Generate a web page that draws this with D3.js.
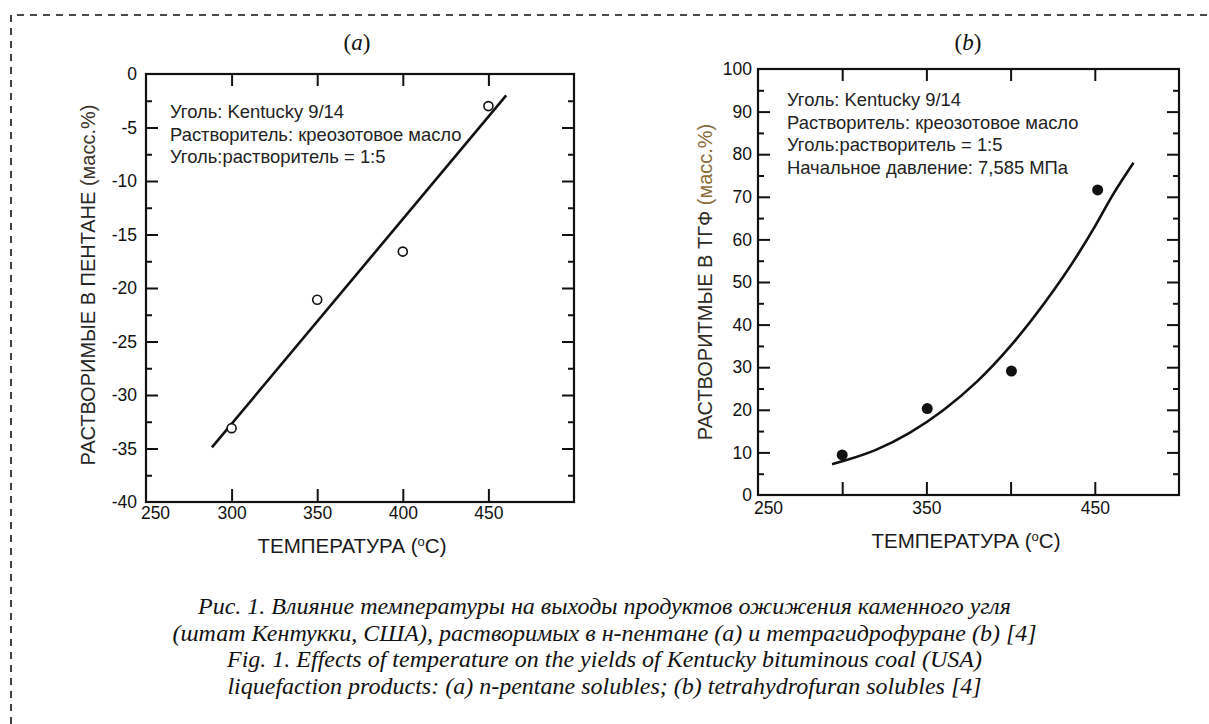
<!DOCTYPE html>
<html><head><meta charset="utf-8">
<script src="https://cdn.jsdelivr.net/npm/d3@7"></script>
<style>
body{margin:0;background:#fff;}
svg{display:block;}
</style></head>
<body>
<svg id="c" width="1209" height="724"></svg>
<script>
// ---- Data ----
// Panel (a): n-pentane solubles
const tempA = [300, 350, 400, 450];
const yieldA = [-33.1, -21.1, -16.6, -3.0];
const fitA_x = [288.5, 460.4];
const fitA_y = [-34.9, -2.0];
const yTicksA = [0, -5, -10, -15, -20, -25, -30, -35, -40];
const xTicksA = [250, 300, 350, 400, 450];
// Panel (b): THF solubles
const tempB = [300, 350.5, 400.5, 451.7];
const yieldB = [9.4, 20.3, 29.1, 71.6];
const curveB_x = [294, 300, 320, 340, 360, 380, 400, 420, 440, 450, 460, 473];
const curveB_y = [7.2, 7.9, 10.6, 14.6, 19.9, 26.6, 35.0, 45.0, 56.5, 63.0, 70.0, 78.0];
const yTicksB = [0, 10, 20, 30, 40, 50, 60, 70, 80, 90, 100];
const xTicksB = [250, 350, 450];
const notesA = ["Уголь: Kentucky 9/14", "Растворитель: креозотовое масло", "Уголь:растворитель = 1:5"];
const notesB = ["Уголь: Kentucky 9/14", "Растворитель: креозотовое масло", "Уголь:растворитель = 1:5", "Начальное давление: 7,585 МПа"];
const captions = [
  "Рис. 1. Влияние температуры на выходы продуктов ожижения каменного угля",
  "(штат Кентукки, США), растворимых в н-пентане (a) и тетрагидрофуране (b) [4]",
  "Fig. 1. Effects of temperature on the yields of Kentucky bituminous coal (USA)",
  "liquefaction products: (a) n-pentane solubles; (b) tetrahydrofuran solubles [4]"
];

const svg = d3.select("#c");
const SANS = "'Liberation Sans', Arial, sans-serif";
const SERIF = "'Liberation Serif', 'Times New Roman', serif";

// dashed frame
svg.append("path").attr("d","M11,724 L11,15 L1209,15")
  .attr("fill","none").attr("stroke","#111").attr("stroke-width",1.6)
  .attr("stroke-dasharray","7,6");

function panel(cfg){
  const g = svg.append("g");
  const x = d3.scaleLinear().domain([250,500]).range([cfg.x0, cfg.x1]);
  const y = d3.scaleLinear().domain(cfg.ydom).range([cfg.y1, cfg.y0]);
  const H = cfg.y1 - cfg.y0, W = cfg.x1 - cfg.x0;
  const mk = (axis, tr, vals, size) => {
    const a = g.append("g").attr("transform", tr)
      .call(axis.tickValues(vals).tickSizeInner(size).tickSizeOuter(0).tickFormat(""));
    a.select(".domain").remove();
    a.selectAll("line").attr("stroke","#111").attr("stroke-width",2);
  };
  mk(d3.axisLeft(y), `translate(${cfg.x0},0)`, cfg.yMajor, -12);
  mk(d3.axisLeft(y), `translate(${cfg.x0},0)`, cfg.yMinor, -6);
  mk(d3.axisRight(y), `translate(${cfg.x1},0)`, cfg.yMajor, -12);
  mk(d3.axisRight(y), `translate(${cfg.x1},0)`, cfg.yMinor, -6);
  mk(d3.axisBottom(x), `translate(0,${cfg.y1})`, cfg.xTickMarks, -13);
  mk(d3.axisTop(x), `translate(0,${cfg.y0})`, cfg.xTickMarks, -12);
  g.append("rect").attr("x",cfg.x0).attr("y",cfg.y0).attr("width",W).attr("height",H)
    .attr("fill","none").attr("stroke","#111").attr("stroke-width",2.2);
  const yl = g.append("g").attr("transform",`translate(${cfg.x0},0)`)
    .call(d3.axisLeft(y).tickValues(cfg.yTicks).tickSize(0).tickPadding(cfg.yPad).tickFormat(d=>String(d)));
  yl.select(".domain").remove();
  yl.selectAll("text").attr("font-family",SANS).attr("font-size",cfg.tickFs).attr("fill","#111");
  const xl = g.append("g").attr("transform",`translate(0,${cfg.y1})`)
    .call(d3.axisBottom(x).tickValues(cfg.xTicks).tickSize(0).tickPadding(cfg.xPad).tickFormat(d=>String(d)));
  xl.select(".domain").remove();
  xl.selectAll("text").attr("font-family",SANS).attr("font-size",cfg.tickFs).attr("fill","#111")
    .attr("dx",(d)=> d===250 ? cfg.firstDx : 0);
  const xt = g.append("text").attr("x",cfg.xTitleX).attr("y",cfg.xTitleY)
    .attr("text-anchor","middle").attr("font-family",SANS).attr("font-size",20.5).attr("fill","#1a1a1a");
  xt.append("tspan").text("ТЕМПЕРАТУРА (");
  xt.append("tspan").attr("font-size",13).attr("dy",-7).text("o");
  xt.append("tspan").attr("dy",7).text("C)");
  const ytt = g.append("text").attr("transform",`translate(${cfg.yTitleX},${cfg.yTitleY}) rotate(-90)`)
    .attr("text-anchor","middle").attr("dominant-baseline","central")
    .attr("font-family",SANS).attr("font-size",20);
  ytt.append("tspan").attr("fill",cfg.titleColor).text(cfg.yTitle);
  ytt.append("tspan").attr("fill",cfg.unitColor).text(" (масс.%)");
  const pl = g.append("text").attr("x",cfg.labX).attr("y",50).attr("text-anchor","middle")
    .attr("font-family",SERIF).attr("font-size",23).attr("fill","#111");
  pl.append("tspan").text("(");
  pl.append("tspan").attr("font-style","italic").text(cfg.letter);
  pl.append("tspan").text(")");
  cfg.notes.forEach((t,i)=>{
    g.append("text").attr("x",cfg.noteX).attr("y",cfg.noteY + i*22.6)
      .attr("font-family",SANS).attr("font-size",18.4).attr("fill","#222").text(t);
  });
  return {g,x,y};
}

// Panel (a)
const A = panel({x0:146,x1:574,y0:74,y1:502,ydom:[-40,0],
  yMajor:[-5,-10,-15,-20,-25,-30,-35], yMinor:d3.range(-37.5,0,5),
  xTickMarks:[300,350,400,450], yTicks:yTicksA, xTicks:xTicksA,
  yPad:9, xPad:5, tickFs:17.5, firstDx:9,
  xTitleX:352, xTitleY:553, yTitleX:88, yTitleY:285,
  yTitle:"РАСТВОРИМЫЕ В ПЕНТАНЕ", titleColor:"#262626", unitColor:"#3a3228",
  labX:357, letter:"a", notes:notesA, noteX:170, noteY:118});
A.g.append("path").datum(d3.zip(fitA_x, fitA_y))
  .attr("d", d3.line().x(d=>A.x(d[0])).y(d=>A.y(d[1])))
  .attr("fill","none").attr("stroke","#111").attr("stroke-width",2.6);
A.g.selectAll("circle.pa").data(d3.zip(tempA, yieldA)).join("circle")
  .attr("cx",d=>A.x(d[0])).attr("cy",d=>A.y(d[1])).attr("r",4.5)
  .attr("fill","#fff").attr("stroke","#111").attr("stroke-width",1.6);

// Panel (b)
const B = panel({x0:758,x1:1179,y0:69,y1:495,ydom:[0,100],
  yMajor:[10,20,30,40,50,60,70,80,90], yMinor:d3.range(5,100,10),
  xTickMarks:[300,350,400,450], yTicks:yTicksB, xTicks:xTicksB,
  yPad:6, xPad:7, tickFs:17.5, firstDx:10,
  xTitleX:966, xTitleY:548, yTitleX:705, yTitleY:282,
  yTitle:"РАСТВОРИТМЫЕ В ТГФ", titleColor:"#2e2a24", unitColor:"#8a6a38",
  labX:968, letter:"b", notes:notesB, noteX:787, noteY:106});
B.g.append("path").datum(d3.zip(curveB_x, curveB_y))
  .attr("d", d3.line().curve(d3.curveMonotoneX).x(d=>B.x(d[0])).y(d=>B.y(d[1])))
  .attr("fill","none").attr("stroke","#111").attr("stroke-width",2.6);
B.g.selectAll("circle.pb").data(d3.zip(tempB, yieldB)).join("circle")
  .attr("cx",d=>B.x(d[0])).attr("cy",d=>B.y(d[1])).attr("r",5.5).attr("fill","#111");

// Captions
captions.forEach((t,i)=>{
  svg.append("text").attr("x",604.5).attr("y",614 + i*26.7).attr("text-anchor","middle")
    .attr("font-family",SERIF).attr("font-style","italic").attr("font-size",24).attr("fill","#111").text(t);
});
</script>
</body></html>
